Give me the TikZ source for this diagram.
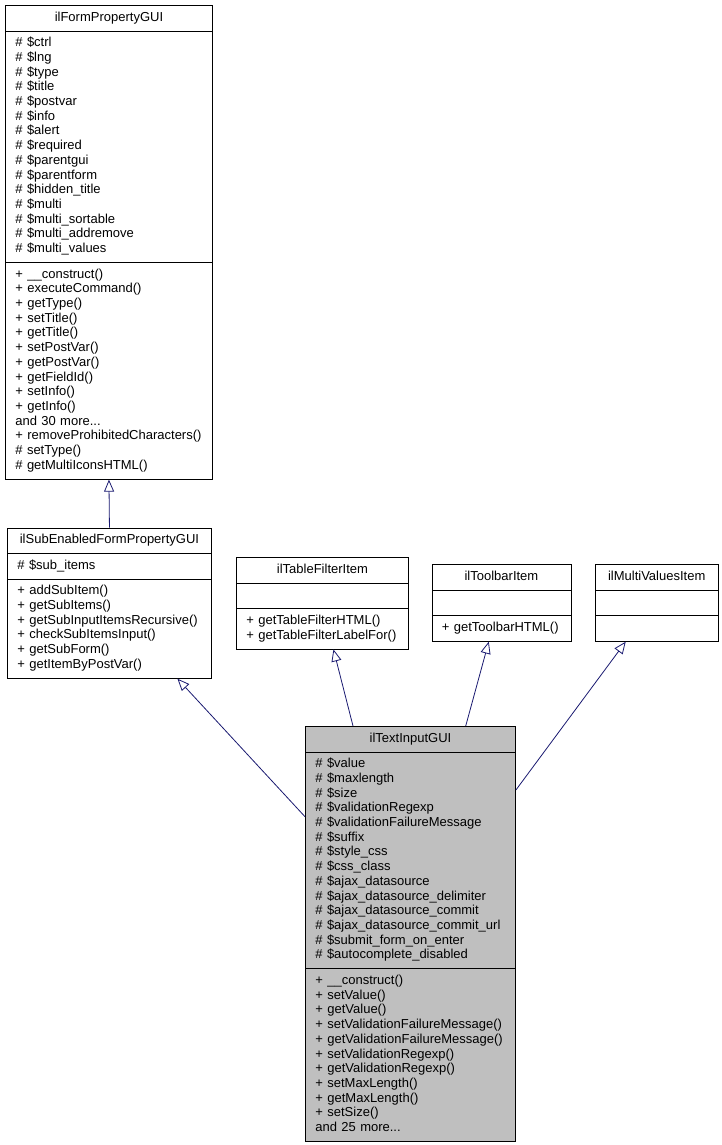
\documentclass[tikz,border=0pt]{standalone}
\usepackage{fontspec}
\setmainfont{Liberation Sans}
\usetikzlibrary{shapes.multipart,arrows.meta}
\definecolor{grey75}{RGB}{191,191,191}
\definecolor{edgeblue}{RGB}{25,25,112}
\begin{document}
\begin{tikzpicture}[x=1pt, y=-1pt,
  classbox/.style={rectangle split, rectangle split parts=3, draw=black, line width=0.9pt,
    fill=white, anchor=north west, text width=#1, inner xsep=10pt, inner ysep=5pt,
    rectangle split part align={center,left,left},
    font=\fontsize{13}{14.7}\selectfont},
  current/.style={fill=grey75},
  derives/.style={draw=edgeblue, line width=0.8pt, -{Triangle[open, length=12pt, width=10pt]}}]
\useasboundingbox (0,0) rectangle (721,1145);
% base class
\node[classbox=187] (fpg) at (5,5) {\hfill\strut ilFormPropertyGUI\strut\hfill\null
\nodepart{two}\strut\# \$ctrl\\ \# \$lng\\ \# \$type\\ \# \$title\\ \# \$postvar\\ \# \$info\\
\# \$alert\\ \# \$required\\ \# \$parentgui\\ \# \$parentform\\ \# \$hidden\_title\\ \# \$multi\\
\# \$multi\_sortable\\ \# \$multi\_addremove\\ \# \$multi\_values\strut
\nodepart{three}\strut + \_\_construct()\\ + executeCommand()\\ + getType()\\ + setTitle()\\
+ getTitle()\\ + setPostVar()\\ + getPostVar()\\ + getFieldId()\\ + setInfo()\\ + getInfo()\\
and 30 more...\\ + removeProhibitedCharacters()\\ \# setType()\\ \# getMultiIconsHTML()\strut};
% middle row
\node[classbox=184] (sub) at (7,527.5) {\hfill\strut ilSubEnabledFormPropertyGUI\strut\hfill\null
\nodepart{two}\strut\# \$sub\_items\strut
\nodepart{three}\strut + addSubItem()\\ + getSubItems()\\ + getSubInputItemsRecursive()\\
+ checkSubItemsInput()\\ + getSubForm()\\ + getItemByPostVar()\strut};
\node[classbox=152] (tfi) at (236,557) {\hfill\strut ilTableFilterItem\strut\hfill\null
\nodepart{two}\strut
\nodepart{three}\strut + getTableFilterHTML()\\ + getTableFilterLabelFor()\strut};
\node[classbox=119] (tbi) at (431.5,564) {\hfill\strut ilToolbarItem\strut\hfill\null
\nodepart{two}\strut
\nodepart{three}\strut + getToolbarHTML()\strut};
\node[classbox=102.5] (mvi) at (595,564) {\hfill\strut ilMultiValuesItem\strut\hfill\null
\nodepart{two}\strut
\nodepart{three}\strut};
% documented class
\node[classbox=190, current] (tig) at (305,726) {\hfill\strut ilTextInputGUI\strut\hfill\null
\nodepart{two}\strut\# \$value\\ \# \$maxlength\\ \# \$size\\ \# \$validationRegexp\\
\# \$validationFailureMessage\\ \# \$suffix\\ \# \$style\_css\\ \# \$css\_class\\
\# \$ajax\_datasource\\ \# \$ajax\_datasource\_delimiter\\ \# \$ajax\_datasource\_commit\\
\# \$ajax\_datasource\_commit\_url\\ \# \$submit\_form\_on\_enter\\ \# \$autocomplete\_disabled\strut
\nodepart{three}\strut + \_\_construct()\\ + setValue()\\ + getValue()\\
+ setValidationFailureMessage()\\ + getValidationFailureMessage()\\ + setValidationRegexp()\\
+ getValidationRegexp()\\ + setMaxLength()\\ + getMaxLength()\\ + setSize()\\
and 25 more...\strut};
% inheritance
\draw[derives] (sub.north) -- (fpg.south);
\draw[derives] ([yshift=-90.7pt]tig.north west) -- ([xshift=68pt]sub.south);
\draw[derives] ([xshift=48pt]tig.north west) -- ([xshift=11pt]tfi.south);
\draw[derives] ([xshift=160.7pt]tig.north west) -- ([xshift=-12.7pt]tbi.south);
\draw[derives] ([yshift=-64pt]tig.north east) -- ([xshift=-31pt]mvi.south);
\end{tikzpicture}
\end{document}
